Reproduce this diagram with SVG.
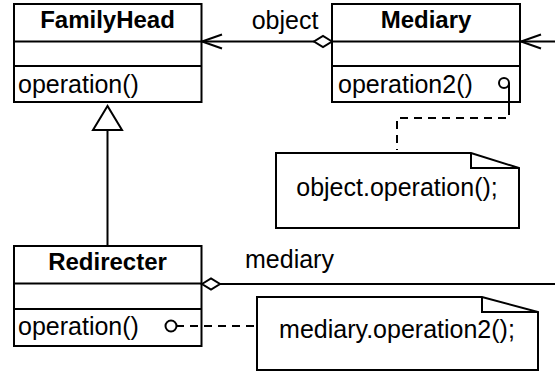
<svg xmlns="http://www.w3.org/2000/svg" width="555" height="375" viewBox="0 0 555 375">
  <style>
    .box { fill: #fff; stroke: #000; stroke-width: 2; }
    .ln { fill: none; stroke: #000; stroke-width: 2; }
    .dash { fill: none; stroke: #000; stroke-width: 2; stroke-dasharray: 8 6; }
    .hd { fill: #fff; stroke: #000; stroke-width: 2; stroke-linejoin: miter; }
    text { font-family: "Liberation Sans", Arial, Helvetica, sans-serif; font-size: 25px; fill: #000; }
    .title { font-weight: bold; font-size: 24px; text-anchor: middle; }
    .mid { text-anchor: middle; }
  </style>

  <rect width="555" height="375" fill="#fff"/>

  <g id="FamilyHead">
    <rect class="box" x="14" y="4" width="187.5" height="98"/>
    <line class="ln" x1="14" y1="41.5" x2="201.5" y2="41.5"/>
    <line class="ln" x1="14" y1="66" x2="201.5" y2="66"/>
    <text x="107.5" y="28" class="title">FamilyHead</text>
    <text x="18" y="93">operation()</text>
  </g>

  <g id="Mediary">
    <rect class="box" x="332" y="4" width="188" height="98"/>
    <line class="ln" x1="332" y1="41.5" x2="520" y2="41.5"/>
    <line class="ln" x1="332" y1="66" x2="520" y2="66"/>
    <text x="426" y="28" class="title">Mediary</text>
    <text x="338" y="93">operation2()</text>
  </g>

  <g id="Redirecter">
    <rect class="box" x="14" y="246" width="187.5" height="100"/>
    <line class="ln" x1="14" y1="283.5" x2="201.5" y2="283.5"/>
    <line class="ln" x1="14" y1="309" x2="201.5" y2="309"/>
    <text x="107.5" y="270" class="title">Redirecter</text>
    <text x="18" y="335">operation()</text>
  </g>

  <g id="note1">
    <path class="box" d="M276,153 H471 L519,168 V228 H276 Z"/>
    <path class="ln" d="M471,153 V168 H519"/>
    <text x="397" y="196" class="mid">object.operation();</text>
  </g>

  <g id="note2">
    <path class="box" d="M257,297 H482 L538,312 V370 H257 Z"/>
    <path class="ln" d="M482,297 V312 H538"/>
    <text x="397" y="338" class="mid">mediary.operation2();</text>
  </g>

  <g id="connectors">
    <!-- Mediary -> FamilyHead (object) -->
    <line class="ln" x1="314" y1="41.5" x2="202" y2="41.5"/>
    <polyline class="ln" points="222,34.5 202,41.5 222,48.5"/>
    <polygon class="hd" points="332,41.5 323,36 314,41.5 323,47"/>
    <text x="285" y="29" class="mid">object</text>
    <!-- incoming association at Mediary -->
    <line class="ln" x1="555" y1="41.5" x2="521" y2="41.5"/>
    <polyline class="ln" points="541,34.5 521,41.5 541,48.5"/>
    <!-- Redirecter generalizes FamilyHead -->
    <line class="ln" x1="107.5" y1="246" x2="107.5" y2="130"/>
    <polygon class="hd" points="107.5,106 93,130 122,130"/>
    <!-- Redirecter -> mediary -->
    <line class="ln" x1="220" y1="284" x2="555" y2="284"/>
    <polygon class="hd" points="202,284 211,278.5 220,284 211,289.5"/>
    <text x="245" y="268">mediary</text>
    <!-- note anchors -->
    <circle class="ln" cx="504" cy="83" r="5"/>
    <line class="ln" x1="509" y1="83" x2="509" y2="107"/>
    <path class="dash" d="M509,107 V118 H397 V150"/>
    <circle class="ln" cx="171" cy="326" r="5.5"/>
    <line class="ln" x1="176.5" y1="326" x2="184" y2="326"/>
    <line class="dash" x1="190" y1="326" x2="257" y2="326"/>
  </g>
</svg>
